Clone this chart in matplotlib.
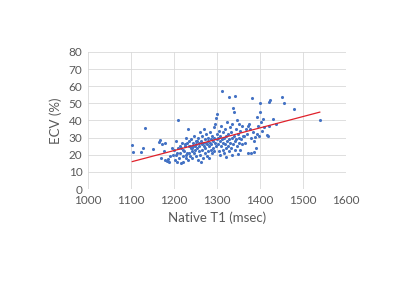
import numpy as np
import matplotlib
matplotlib.use("Agg")
import matplotlib.pyplot as plt

# native T1 (msec) and ECV (%)
t1 = [1103, 1105, 1123, 1127, 1133, 1152, 1165, 1168, 1172, 1170, 1176, 1178, 1180, 1183, 1185, 1188, 1190,
      1195, 1198, 1200, 1202, 1204, 1205, 1207, 1208, 1209, 1210, 1212, 1213, 1214, 1216, 1217, 1218, 1220, 1221,
      1222, 1224, 1225, 1226, 1227, 1228, 1229, 1230, 1231, 1232, 1233, 1234, 1235, 1236, 1237, 1238, 1239, 1240,
      1241, 1242, 1243, 1244, 1245, 1246, 1247, 1248, 1249, 1250,
      1251, 1252, 1253, 1254, 1255, 1256, 1257, 1258, 1259, 1260, 1261, 1262, 1263, 1264, 1265, 1266, 1267, 1268,
      1269, 1270, 1271, 1272, 1273, 1274, 1275, 1276, 1277, 1278, 1279, 1280, 1281, 1282, 1283, 1284, 1285, 1286,
      1287, 1288, 1289, 1290, 1291, 1292, 1293, 1294, 1295, 1296, 1297, 1298, 1299, 1300,
      1301, 1302, 1303, 1304, 1305, 1306, 1307, 1308, 1309, 1310, 1311, 1312, 1313, 1314, 1315, 1316, 1317, 1318,
      1319, 1320, 1321, 1322, 1323, 1324, 1325, 1326, 1327, 1328, 1329, 1330, 1331, 1332, 1333, 1334, 1335, 1336,
      1337, 1338, 1339, 1340, 1341, 1342, 1343, 1344, 1345, 1346, 1347, 1348, 1349, 1350, 1351, 1352, 1353, 1354,
      1355, 1357, 1358, 1360,
      1362, 1365, 1368, 1370, 1372, 1373, 1375, 1377, 1378, 1380, 1381, 1383, 1385, 1387, 1389, 1390, 1392, 1394,
      1395, 1398, 1400, 1400, 1403, 1405, 1408, 1410, 1416, 1418, 1420, 1421, 1423, 1430, 1437, 1452, 1455, 1478,
      1539]
ecv = [25.5, 21.5, 21.7, 24, 35.7, 23.2, 27.5, 28.5, 26, 18, 22, 27, 17, 16.5, 17.5, 16, 19,
       24, 20, 23, 17, 28, 20, 21, 15.5, 40, 24, 18, 21, 25, 15, 24, 27, 19, 23,
       16, 22, 26, 25, 18, 30, 20, 27, 21, 35, 17, 28, 25, 21, 25, 19, 24, 29,
       24, 22, 18, 27, 25, 31, 21, 25, 23, 28,
       19, 26, 28, 24, 17, 30, 22, 27, 25, 33, 20, 28, 16, 26, 23, 31, 18, 27,
       25, 35, 21, 29, 24, 27, 32, 19, 26, 28, 22, 30, 25, 18, 27, 33, 23, 29,
       26, 21, 31, 28, 24, 36, 30, 22, 27, 38, 25, 41.5, 29, 32,
       43.5, 26, 30, 22, 34, 28, 20, 31, 25, 37, 56.9, 29, 23, 33, 27, 21, 30, 35,
       26, 24, 31, 18.9, 28, 39, 25, 32, 22, 29, 53.6, 36, 27, 24, 33, 30, 20, 38,
       47.2, 26, 31, 45.2, 28, 23, 54.4, 35, 29, 25, 40, 20.3, 32, 27, 38, 30, 23, 34,
       29, 37, 26, 31,
       31, 27, 35, 32, 21, 37, 38, 35, 30, 20.8, 53, 33, 28, 21.8, 30.6, 23.8, 32, 42.3,
       37, 31, 50, 45.2, 39, 34, 41, 36, 31.6, 31, 51, 36.8, 52, 41, 37.8, 53.6, 50, 46.8,
       40.2]

x_ticks = [1000, 1100, 1200, 1300, 1400, 1500, 1600]
y_ticks = [0, 10, 20, 30, 40, 50, 60, 70, 80]

plt.rcParams['font.family'] = ['Lato', 'DejaVu Sans']
txt = '#595959'

fig = plt.figure(figsize=(4, 3), dpi=100)
ax = fig.add_axes([0.22, 0.37, 0.645, 0.457])

ax.scatter(t1, ecv, s=5, color='#4472C4', linewidths=0, zorder=3)

# linear trendline over the data range
k, b = np.polyfit(t1, ecv, 1)
xl = np.array([min(t1), max(t1)])
ax.plot(xl, k * xl + b, color='#E0212B', lw=0.9, zorder=4)

ax.set_xlim(1000, 1600)
ax.set_ylim(0, 80)
ax.set_xticks(x_ticks)
ax.set_yticks(y_ticks)
ax.grid(True, color='#D9D9D9', lw=0.6)
ax.set_axisbelow(True)
for s in ax.spines.values():
    s.set_visible(False)
ax.tick_params(length=0, labelsize=8.5, labelcolor=txt, pad=4)

ax.set_xlabel('Native T1 (msec)', fontsize=9.5, color=txt, labelpad=4)
ax.set_ylabel('ECV (%)', fontsize=9.5, color=txt, labelpad=5)

fig.savefig('out.png', dpi=100)
